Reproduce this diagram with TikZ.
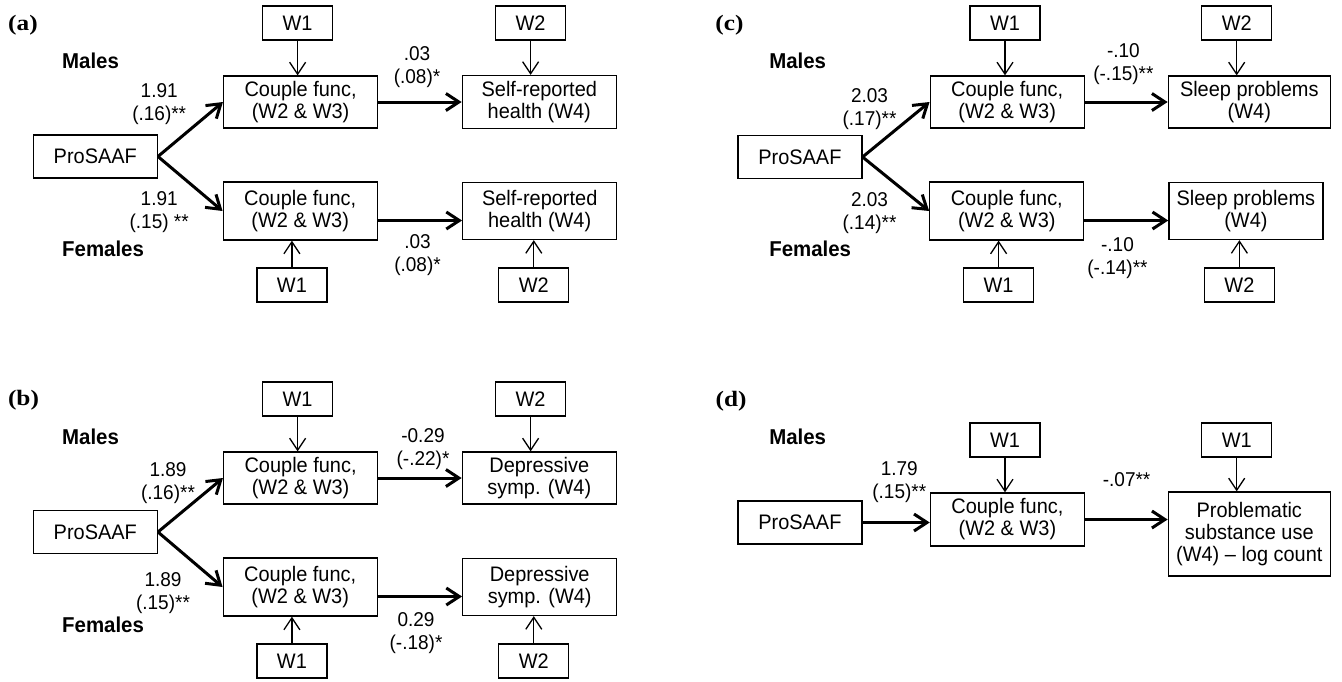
\documentclass[tikz,border=0pt]{standalone}
\usepackage{fontspec}
\setmainfont{Liberation Sans}[FakeStretch=0.95]
\newfontfamily\panelfont{Liberation Serif}[FakeStretch=1.15]
\usetikzlibrary{arrows.meta}

\newcommand\boxfont{\fontsize{21}{22}\selectfont}
\newcommand\coeffont{\fontsize{20}{23}\selectfont}
\newcommand\groupfont{\fontsize{21.5}{22}\selectfont\bfseries}
\newcommand\tagfont{\panelfont\bfseries\fontsize{22}{24}\selectfont}

\tikzset{
  box/.style={draw, line width=1.3pt, align=center, inner sep=2pt, font=\boxfont},
  wbox/.style={box, minimum width=70, minimum height=34},
  probox/.style={box, minimum width=124, minimum height=43},
  varbox/.style={box, minimum width=154, minimum height=52},
  coef/.style={align=center, font=\coeffont, inner sep=0pt},
  group/.style={anchor=west, font=\groupfont, inner sep=0pt},
  tag/.style={font=\tagfont, inner sep=0pt},
  thickarr/.style={line width=3pt, -{Straight Barb[length=13pt,width=17pt]}},
  thinarr/.style={line width=1.3pt, -{Straight Barb[length=12pt,width=16pt]}},
}

\begin{document}
\begin{tikzpicture}[x=1pt, y=-1pt]
  \useasboundingbox (0,0) rectangle (1342,681);

  % (a) self-reported health
  \begin{scope}[name prefix=a-]
    \node[tag] (tag) at (23,25) {(a)};
    \node[wbox] (w1M) at (297.6,23) {W1};
    \node[wbox] (w2M) at (530.6,23) {W2};
    \node[group] (males) at (62,61) {Males};
    \node[varbox] (cfM) at (300.6,102) {Couple func,\\(W2 \& W3)};
    \node[varbox, minimum height=53] (outM) at (539.3,102) {Self-reported\\health (W4)};
    \node[probox] (pro) at (95.3,156.5) {ProSAAF};
    \node[varbox, minimum height=58] (cfF) at (300.2,211) {Couple func,\\(W2 \& W3)};
    \node[varbox, minimum height=57] (outF) at (539.7,211) {Self-reported\\health (W4)};
    \node[group] (females) at (62,249) {Females};
    \node[wbox] (w1F) at (291.9,285) {W1};
    \node[wbox] (w2F) at (533.8,285) {W2};
    \node[coef] (lM) at (159.2,104.5) {1.91\\(.16)**};
    \node[coef] (lF) at (159.2,212) {1.91\\(.15) **};
    \node[coef] (rM) at (417,67) {.03\\(.08)*};
    \node[coef] (rF) at (417.5,255) {.03\\(.08)*};
    \draw[thickarr] (pro.east) -- (cfM.west);
    \draw[thickarr] (pro.east) -- (cfF.west);
    \draw[thickarr] (cfM.east) -- (cfM.east -| outM.west);
    \draw[thickarr] ([yshift=-9.5pt]cfF.east) -- ([yshift=-9.5pt]cfF.east -| outF.west);
    \draw[thinarr] (w1M.south) -- (w1M.south |- cfM.north);
    \draw[thinarr] (w2M.south) -- (w2M.south |- outM.north);
    \draw[thinarr] (w1F.north) -- (w1F.north |- cfF.south);
    \draw[thinarr] (w2F.north) -- (w2F.north |- outF.south);
  \end{scope}

  % (b) depressive symptoms
  \begin{scope}[shift={(0,376)}, name prefix=b-]
    \node[tag] (tag) at (23.5,24) {(b)};
    \node[wbox] (w1M) at (297.6,23) {W1};
    \node[wbox] (w2M) at (530.6,23) {W2};
    \node[group] (males) at (62,61) {Males};
    \node[varbox] (cfM) at (300.6,102) {Couple func,\\(W2 \& W3)};
    \node[varbox] (outM) at (539.3,102) {Depressive\\symp. (W4)};
    \node[probox] (pro) at (95.3,156) {ProSAAF};
    \node[varbox, minimum height=58] (cfF) at (300.2,211) {Couple func,\\(W2 \& W3)};
    \node[varbox, minimum height=57] (outF) at (539.7,211) {Depressive\\symp. (W4)};
    \node[group] (females) at (62,249) {Females};
    \node[wbox] (w1F) at (291.9,285) {W1};
    \node[wbox] (w2F) at (533.8,285) {W2};
    \node[coef] (lM) at (168,107) {1.89\\(.16)**};
    \node[coef] (lF) at (163,217) {1.89\\(.15)**};
    \node[coef] (rM) at (423,73) {-0.29\\(-.22)*};
    \node[coef] (rF) at (416,257) {0.29\\(-.18)*};
    \draw[thickarr] (pro.east) -- (cfM.west);
    \draw[thickarr] (pro.east) -- (cfF.west);
    \draw[thickarr] (cfM.east) -- (cfM.east -| outM.west);
    \draw[thickarr] ([yshift=-9.5pt]cfF.east) -- ([yshift=-9.5pt]cfF.east -| outF.west);
    \draw[thinarr] (w1M.south) -- (w1M.south |- cfM.north);
    \draw[thinarr] (w2M.south) -- (w2M.south |- outM.north);
    \draw[thinarr] (w1F.north) -- (w1F.north |- cfF.south);
    \draw[thinarr] (w2F.north) -- (w2F.north |- outF.south);
  \end{scope}

  % (c) sleep problems
  \begin{scope}[shift={(670,0)}, name prefix=c-]
    \node[tag] (tag) at (59.4,25) {(c)};
    \node[wbox] (w1M) at (335,23) {W1};
    \node[wbox] (w2M) at (566.7,23) {W2};
    \node[group] (males) at (99.1,61) {Males};
    \node[varbox] (cfM) at (337.2,102) {Couple func,\\(W2 \& W3)};
    \node[varbox, minimum width=162] (outM) at (579.3,102) {Sleep problems\\(W4)};
    \node[probox] (pro) at (129.9,157) {ProSAAF};
    \node[varbox, minimum height=58] (cfF) at (336.8,211) {Couple func,\\(W2 \& W3)};
    \node[varbox, minimum height=57] (outF) at (575.9,211) {Sleep problems\\(W4)};
    \node[group] (females) at (99.1,249) {Females};
    \node[wbox] (w1F) at (328.6,285) {W1};
    \node[wbox] (w2F) at (569.4,285) {W2};
    \node[coef] (lM) at (199.5,109) {2.03\\(.17)**};
    \node[coef] (lF) at (199.5,213) {2.03\\(.14)**};
    \node[coef] (rM) at (453.4,64.5) {-.10\\(-.15)**};
    \node[coef] (rF) at (447.5,258) {-.10\\(-.14)**};
    \draw[thickarr] (pro.east) -- (cfM.west);
    \draw[thickarr] (pro.east) -- (cfF.west);
    \draw[thickarr] (cfM.east) -- (cfM.east -| outM.west);
    \draw[thickarr] ([yshift=-9.5pt]cfF.east) -- ([yshift=-9.5pt]cfF.east -| outF.west);
    \draw[thinarr] (w1M.south) -- (w1M.south |- cfM.north);
    \draw[thinarr] (w2M.south) -- (w2M.south |- outM.north);
    \draw[thinarr] (w1F.north) -- (w1F.north |- cfF.south);
    \draw[thinarr] (w2F.north) -- (w2F.north |- outF.south);
  \end{scope}

  % (d) problematic substance use
  \begin{scope}[shift={(670,376)}, name prefix=d-]
    \node[tag] (tag) at (61.1,25) {(d)};
    \node[group] (males) at (99.1,61) {Males};
    \node[wbox] (w1C) at (335,64) {W1};
    \node[wbox] (w1P) at (566.7,64) {W1};
    \node[probox] (pro) at (129.9,146.5) {ProSAAF};
    \node[varbox, minimum height=53] (cf) at (337.4,143.5) {Couple func,\\(W2 \& W3)};
    \node[varbox, minimum width=162, minimum height=84] (prob) at (579.3,158)
      {Problematic\\substance use\\(W4) – log count};
    \node[coef] (lM) at (229.3,106) {1.79\\(.15)**};
    \node[coef] (rM) at (456.6,104) {-.07**};
    \draw[thickarr] (pro.east) -- (pro.east -| cf.west);
    \draw[thickarr] (cf.east) -- (cf.east -| prob.west);
    \draw[thinarr] (w1C.south) -- (w1C.south |- cf.north);
    \draw[thinarr] (w1P.south) -- (w1P.south |- prob.north);
  \end{scope}
\end{tikzpicture}
\end{document}
